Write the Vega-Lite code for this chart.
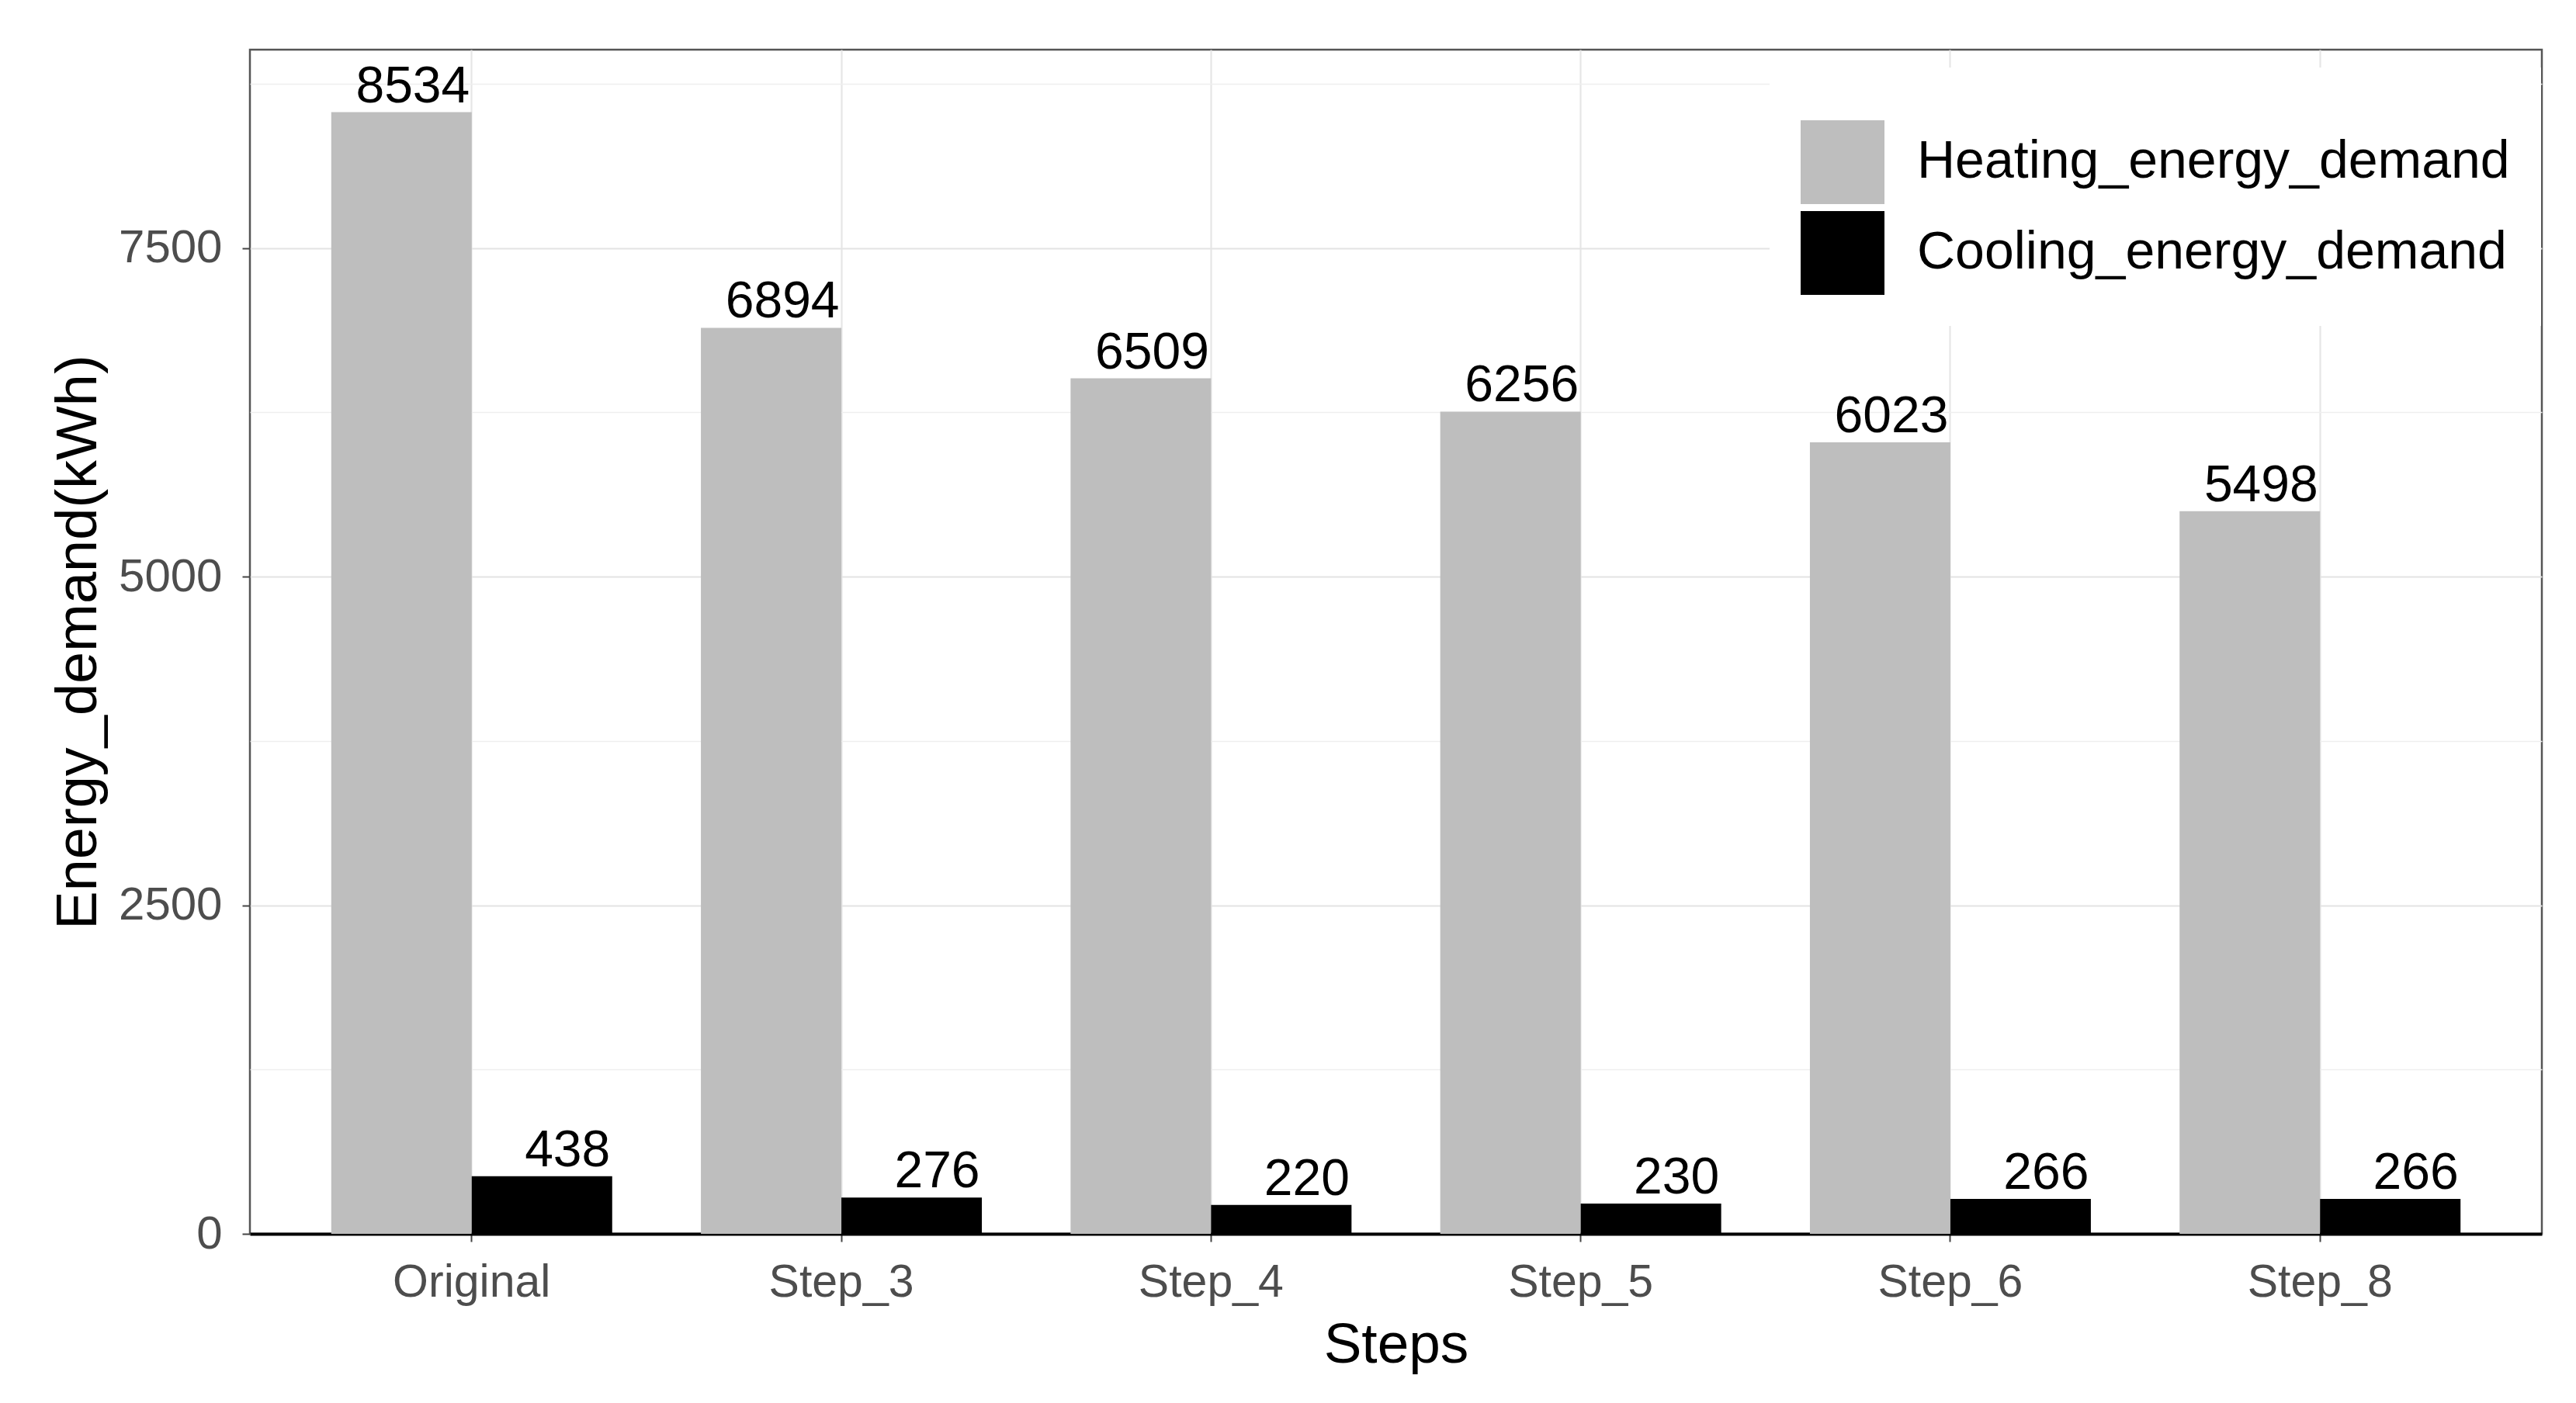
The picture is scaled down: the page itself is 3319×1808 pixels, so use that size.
{
  "$schema": "https://vega.github.io/schema/vega-lite/v6.json",
  "autosize": "none",
  "width": 2953,
  "height": 1526,
  "padding": {"left": 322, "top": 64, "right": 44, "bottom": 218},
  "background": "white",
  "data": {
    "values": [
      {"Step": "Original", "Type": "Heating_energy_demand", "Value": 8534},
      {"Step": "Original", "Type": "Cooling_energy_demand", "Value": 438},
      {"Step": "Step_3", "Type": "Heating_energy_demand", "Value": 6894},
      {"Step": "Step_3", "Type": "Cooling_energy_demand", "Value": 276},
      {"Step": "Step_4", "Type": "Heating_energy_demand", "Value": 6509},
      {"Step": "Step_4", "Type": "Cooling_energy_demand", "Value": 220},
      {"Step": "Step_5", "Type": "Heating_energy_demand", "Value": 6256},
      {"Step": "Step_5", "Type": "Cooling_energy_demand", "Value": 230},
      {"Step": "Step_6", "Type": "Heating_energy_demand", "Value": 6023},
      {"Step": "Step_6", "Type": "Cooling_energy_demand", "Value": 266},
      {"Step": "Step_8", "Type": "Heating_energy_demand", "Value": 5498},
      {"Step": "Step_8", "Type": "Cooling_energy_demand", "Value": 266}
    ]
  },
  "encoding": {
    "x": {
      "field": "Step", "type": "nominal",
      "sort": ["Original", "Step_3", "Step_4", "Step_5", "Step_6", "Step_8"],
      "scale": {"paddingInner": 0.24, "paddingOuter": 0.22},
      "axis": {
        "title": "Steps",
        "labelAngle": 0,
        "labelLimit": 2000,
        "bandPosition": 0.5,
        "grid": true,
        "gridColor": "#E6E6E6",
        "gridWidth": 2.2,
        "domainColor": "#000000",
        "domainWidth": 4,
        "tickColor": "#444444",
        "tickWidth": 2,
        "tickSize": 10,
        "labelFontSize": 59,
        "labelColor": "#4D4D4D",
        "labelBaseline": "alphabetic",
        "labelPadding": 70,
        "titleFontSize": 73,
        "titleFontWeight": "normal",
        "titleColor": "#000000",
        "titleBaseline": "alphabetic",
        "titleY": 165
      }
    },
    "xOffset": {
      "field": "Type", "type": "nominal",
      "sort": ["Heating_energy_demand", "Cooling_energy_demand"],
      "scale": {"paddingInner": 0, "paddingOuter": 0}
    },
    "y": {
      "field": "Value", "type": "quantitative",
      "scale": {"domain": [0, 9010], "nice": false, "zero": true},
      "axis": {
        "title": "Energy_demand(kWh)",
        "values": [0, 1250, 2500, 3750, 5000, 6250, 7500, 8750],
        "format": "d",
        "labelExpr": "datum.value % 2500 === 0 ? datum.label : ''",
        "grid": true,
        "gridColor": {"condition": {"test": "datum.value % 2500 === 0", "value": "#E3E3E3"}, "value": "#EFEFEF"},
        "gridWidth": {"condition": {"test": "datum.value % 2500 === 0", "value": 2.2}, "value": 1.3},
        "tickOpacity": {"condition": {"test": "datum.value % 2500 === 0", "value": 1}, "value": 0},
        "domain": false,
        "tickColor": "#444444",
        "tickWidth": 2,
        "tickSize": 10,
        "labelFontSize": 60,
        "labelColor": "#4D4D4D",
        "labelPadding": 26,
        "titleFontSize": 74,
        "titleFontWeight": "normal",
        "titleColor": "#000000",
        "titleBaseline": "alphabetic",
        "titleX": -199
      }
    }
  },
  "layer": [
    {
      "mark": {"type": "bar"},
      "encoding": {
        "color": {
          "field": "Type", "type": "nominal",
          "scale": {"domain": ["Heating_energy_demand", "Cooling_energy_demand"], "range": ["#BEBEBE", "#000000"]},
          "legend": {
            "title": " ",
            "titleFontSize": 28,
            "titlePadding": 0,
            "orient": "none",
            "legendX": 1958,
            "legendY": 23,
            "padding": 40,
            "fillColor": "white",
            "symbolType": "square",
            "symbolSize": 11664,
            "symbolStrokeWidth": 0,
            "labelFontSize": 68,
            "labelColor": "#000000",
            "labelOffset": 42,
            "labelLimit": 2000,
            "rowPadding": 9
          }
        }
      }
    },
    {
      "mark": {"type": "text", "align": "right", "baseline": "alphabetic", "dx": 88, "dy": -13, "fontSize": 66, "color": "#000000"},
      "encoding": {
        "text": {"field": "Value", "type": "quantitative", "format": "d"}
      }
    }
  ],
  "config": {
    "font": "Liberation Sans",
    "view": {"stroke": "#555555", "strokeWidth": 2.5}
  }
}
